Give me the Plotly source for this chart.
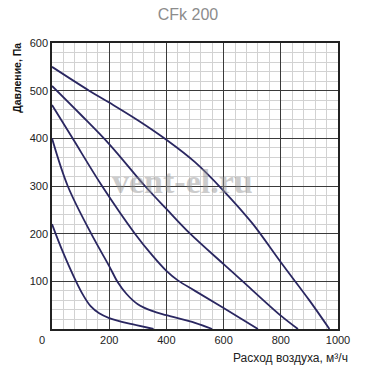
import plotly.graph_objects as go

# Airflow (m3/h) and pressure (Pa) for each fan curve
c1_x = [0, 130, 200, 300, 400, 500, 600, 700, 800, 900, 970]
c1_y = [550, 500, 475, 438, 397, 350, 290, 222, 140, 60, 0]

c2_x = [0, 100, 200, 325, 400, 483, 600, 663, 800, 860]
c2_y = [510, 450, 388, 300, 252, 200, 136, 102, 28, 0]

c3_x = [0, 72, 175, 290, 350, 400, 440, 500, 600, 720]
c3_y = [470, 400, 300, 200, 155, 122, 102, 80, 44, 0]

c4_x = [0, 55, 137, 200, 230, 260, 300, 350, 400, 500, 560]
c4_y = [400, 300, 200, 132, 98, 74, 52, 38, 29, 13, 0]

c5_x = [0, 35, 84, 110, 135, 165, 200, 280, 355]
c5_y = [220, 166, 100, 70, 48, 33, 23, 10, 0]

x_ticks = [200, 400, 600, 800, 1000]
y_ticks = [100, 200, 300, 400, 500, 600]

curves = [(c1_x, c1_y), (c2_x, c2_y), (c3_x, c3_y), (c4_x, c4_y), (c5_x, c5_y)]

fig = go.Figure()
for cx, cy in curves:
    fig.add_trace(go.Scatter(x=cx, y=cy, mode="lines",
                             line=dict(color="#2a2761", width=1.8, shape="spline", smoothing=1.0),
                             showlegend=False, hoverinfo="skip"))

font_main = "Liberation Sans, Arial, sans-serif"

fig.update_layout(
    width=370, height=370,
    margin=dict(l=52, r=32, t=43, b=41),
    paper_bgcolor="white", plot_bgcolor="white",
    title=dict(text="CFk 200", x=188/370, xref="container", xanchor="center",
               y=1-14/370, yanchor="middle",
               font=dict(family=font_main, size=16, color="#8c8c8c")),
    font=dict(family=font_main, size=11, color="#222"),
)

fig.update_xaxes(range=[0, 1000], tickvals=x_ticks, ticktext=[str(v) for v in x_ticks],
                 showgrid=True, gridcolor="#3a3a3a", gridwidth=1,
                 minor=dict(dtick=40, tick0=0, showgrid=True, gridcolor="#d2d2d2", gridwidth=1),
                 showline=True, linecolor="#222", linewidth=1.5, mirror=True,
                 zeroline=False, ticks="", fixedrange=True)
fig.update_yaxes(range=[0, 600], tickvals=y_ticks, ticktext=[str(v) for v in y_ticks],
                 showgrid=True, gridcolor="#3a3a3a", gridwidth=1,
                 minor=dict(dtick=20, tick0=0, showgrid=True, gridcolor="#d2d2d2", gridwidth=1),
                 showline=True, linecolor="#222", linewidth=1.5, mirror=True,
                 zeroline=False, ticks="", fixedrange=True)

fig.add_annotation(text="0", xref="paper", yref="paper", x=-0.034, y=-0.037,
                   showarrow=False, xanchor="center", yanchor="middle",
                   font=dict(family=font_main, size=11, color="#222"))
fig.add_annotation(text="Давление, Па", xref="paper", yref="paper", x=-0.121, y=0.880,
                   textangle=-90, showarrow=False, xanchor="center", yanchor="middle",
                   font=dict(family=font_main, size=10.5, color="#111", weight="bold"))
fig.add_annotation(text="Расход воздуха, м³/ч", xref="paper", yref="paper", x=1.041, y=-0.100,
                   showarrow=False, xanchor="right", yanchor="middle",
                   font=dict(family=font_main, size=12, color="#222"))
fig.add_annotation(text="vent-el.ru", xref="paper", yref="paper", x=0.458, y=0.515,
                   showarrow=False, xanchor="center", yanchor="middle", opacity=0.45,
                   font=dict(family="Liberation Serif, serif", size=34, color="#909090", weight="bold"))

fig.write_html("out.html")
